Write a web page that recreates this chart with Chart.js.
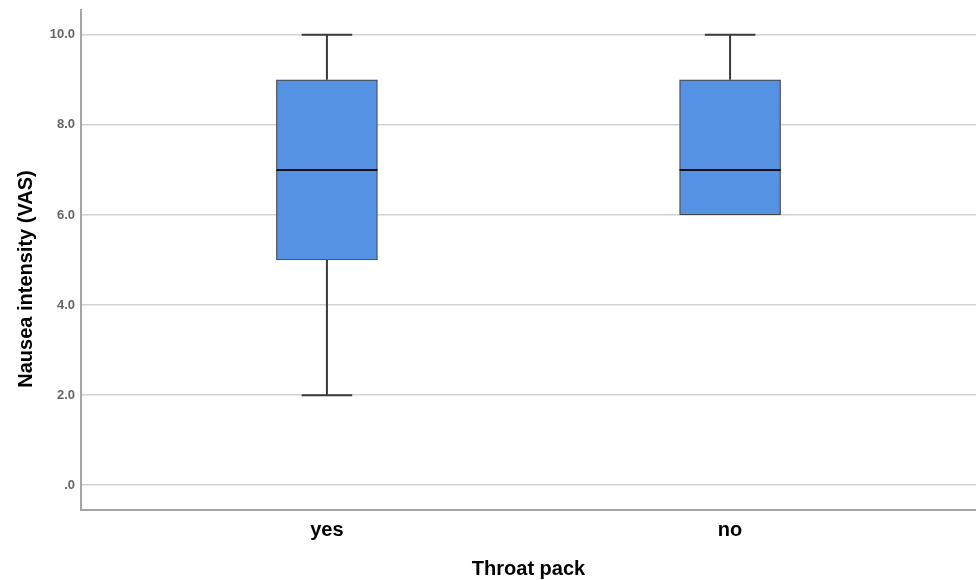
<!DOCTYPE html>
<html>
<head>
<meta charset="utf-8">
<script src="https://cdn.jsdelivr.net/npm/chart.js@4"></script>
<style>
  body { margin: 0; background: #fff; }
  #wrap { width: 976px; height: 580px; }
</style>
</head>
<body>
<div id="wrap"><canvas id="boxChart" width="976" height="580"></canvas></div>
<script>
/* data */
const groups = ["yes", "no"];
const minVals = [2, 6];
const q1Vals = [5, 6];
const medianVals = [7, 7];
const q3Vals = [9, 9];
const maxVals = [10, 10];
const yTicks = [0, 2, 4, 6, 8, 10];

const yTitle = "Nausea intensity (VAS)";
const xTitle = "Throat pack";

/* whiskers, caps and medians on top of the boxes */
const whiskerPlugin = {
    id: "whiskers",
    afterDatasetsDraw(chart) {
        const ctx = chart.ctx;
        const xs = chart.scales.x;
        const ys = chart.scales.y;
        const meta = chart.getDatasetMeta(0);

        groups.forEach((g, i) => {
            const cx = xs.getPixelForValue(i + 1);
            const half = meta.data[i].width / 2;
            const cap = half / 2;
            const yMin = ys.getPixelForValue(minVals[i]);
            const yQ1 = ys.getPixelForValue(q1Vals[i]);
            const yMed = ys.getPixelForValue(medianVals[i]);
            const yQ3 = ys.getPixelForValue(q3Vals[i]);
            const yMax = ys.getPixelForValue(maxVals[i]);

            ctx.save();
            ctx.strokeStyle = "#3a3a3a";
            ctx.lineWidth = 2;
            ctx.beginPath();
            if (maxVals[i] > q3Vals[i]) {
                ctx.moveTo(cx, yQ3); ctx.lineTo(cx, yMax);
                ctx.moveTo(cx - cap, yMax); ctx.lineTo(cx + cap, yMax);
            }
            if (minVals[i] < q1Vals[i]) {
                ctx.moveTo(cx, yQ1); ctx.lineTo(cx, yMin);
                ctx.moveTo(cx - cap, yMin); ctx.lineTo(cx + cap, yMin);
            }
            ctx.stroke();

            ctx.strokeStyle = "#111";
            ctx.lineWidth = 2;
            ctx.beginPath();
            ctx.moveTo(cx - half, yMed); ctx.lineTo(cx + half, yMed);
            ctx.stroke();
            ctx.restore();
        });
    }
};

/* y axis title, placed as in the original (a bit below centre) */
const yTitlePlugin = {
    id: "yTitle",
    afterDraw(chart) {
        const ctx = chart.ctx;
        const area = chart.chartArea;
        ctx.save();
        ctx.translate(31.5, area.top + (area.bottom - area.top) / 2 + 19);
        ctx.rotate(-Math.PI / 2);
        ctx.font = "bold 20px 'Liberation Sans', Arial, sans-serif";
        ctx.fillStyle = "#000";
        ctx.textAlign = "center";
        ctx.textBaseline = "alphabetic";
        ctx.fillText(yTitle, 0, 0);
        ctx.restore();
    }
};

new Chart(
    document.getElementById("boxChart"),
    {
        type: "bar",

        data: {
            datasets: [{
                data: groups.map((g, i) => ({ x: i + 1, y: [q1Vals[i], q3Vals[i]] })),
                backgroundColor: "#5592e3",
                borderColor: "#444",
                borderWidth: 1.2,
                borderSkipped: false,
                barThickness: 101
            }]
        },

        options: {
            responsive: false,
            animation: false,
            layout: {
                padding: { top: 10, left: 0, right: 0, bottom: 0 }
            },
            plugins: {
                legend: { display: false },
                tooltip: { enabled: false }
            },
            scales: {
                x: {
                    type: "linear",
                    offset: false,
                    min: 0.39,
                    max: 2.61,
                    afterBuildTicks: s => { s.ticks = groups.map((g, i) => ({ value: i + 1 })); },
                    afterFit: s => { s.height = 70; s.paddingLeft = 0; s.paddingRight = 0; },
                    grid: { display: false, drawTicks: false, offset: false },
                    border: { display: true, color: "#a5a5a5", width: 2 },
                    ticks: {
                        padding: 8,
                        color: "#000",
                        font: { family: "'Liberation Sans', Arial, sans-serif", size: 20, weight: "bold" },
                        callback: v => groups[v - 1] || ""
                    },
                    title: {
                        display: true,
                        text: xTitle,
                        color: "#000",
                        padding: { top: 0, bottom: 1 },
                        font: { family: "'Liberation Sans', Arial, sans-serif", size: 20, weight: "bold", lineHeight: 1 }
                    }
                },
                y: {
                    min: -0.55,
                    max: 10.55,
                    afterBuildTicks: s => { s.ticks = yTicks.map(v => ({ value: v })); },
                    afterFit: s => { s.width = 81; s.paddingTop = 0; s.paddingBottom = 0; },
                    grid: { color: "#d2d2d2", lineWidth: 1.5, drawTicks: false },
                    border: { display: true, color: "#a5a5a5", width: 2 },
                    ticks: {
                        padding: 6,
                        color: "#666",
                        font: { family: "'Liberation Sans', Arial, sans-serif", size: 13, weight: "bold" },
                        callback: v => v === 0 ? ".0" : v.toFixed(1)
                    }
                }
            }
        },

        plugins: [whiskerPlugin, yTitlePlugin]
    }
);
</script>
</body>
</html>
